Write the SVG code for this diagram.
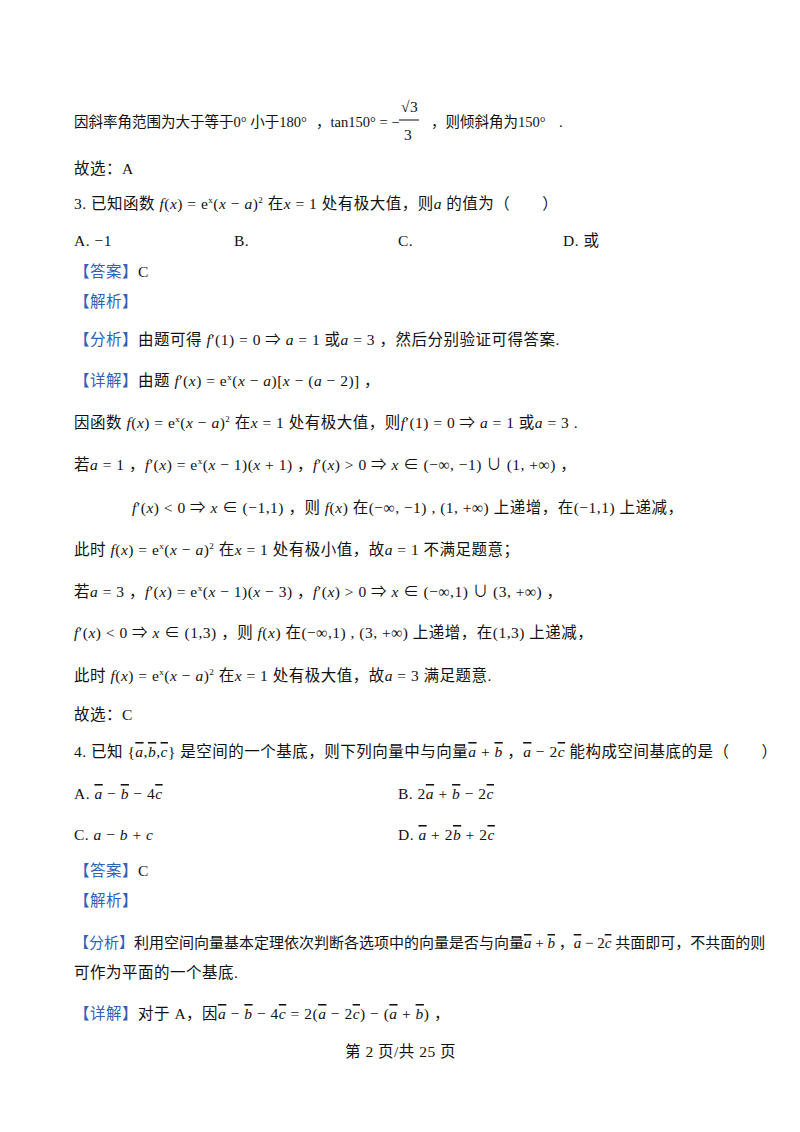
<svg xmlns="http://www.w3.org/2000/svg" width="800" height="1132" viewBox="0 0 800 1132">
<style>
text{font-family:"Liberation Serif","Noto Sans CJK SC",serif;font-size:15.5px;fill:#111;letter-spacing:0.5px}
.l1{font-size:14.5px;letter-spacing:0}
.m{font-style:italic}
.v{font-style:italic;text-decoration:overline}
.b{fill:#2f62b8}
</style>
<rect width="800" height="1132" fill="#fff"/>
<g id="body">
<text x="74" y="127" class="l1">因斜率角范围为大于等于0° 小于180°</text>
<text x="316" y="127" class="l1">，tan150° = −</text>
<text x="401" y="112" font-size="13">√3</text>
<line x1="399" y1="120" x2="419" y2="120" stroke="#111"/>
<text x="404" y="140" font-size="13">3</text>
<text x="431" y="127" class="l1">，则倾斜角为150°</text>
<text x="559" y="127" class="l1">.</text>
<text x="74" y="174">故选：A</text>
<text x="74" y="209">3. 已知函数 <tspan class="m">f</tspan>(<tspan class="m">x</tspan>) = e<tspan font-size="9" dy="-6">x</tspan><tspan dy="6">(</tspan><tspan class="m">x</tspan> − <tspan class="m">a</tspan>)<tspan font-size="9" dy="-6">2</tspan><tspan dy="6">  在</tspan><tspan class="m">x</tspan> = 1   处有极大值，则<tspan class="m">a</tspan>   的值为（　　）</text>
<text x="74" y="246">A.  −1</text>
<text x="234" y="246">B.</text>
<text x="398" y="246">C.</text>
<text x="563" y="246">D.   或</text>
<text x="74" y="277" class="b">【答案】<tspan fill="#111">C</tspan></text>
<text x="74" y="307" class="b">【解析】</text>
<text x="74" y="345"><tspan class="b">【分析】</tspan>由题可得 <tspan class="m">f</tspan>′(1) = 0 ⇒ <tspan class="m">a</tspan> = 1  或<tspan class="m">a</tspan> = 3 ，然后分别验证可得答案.</text>
<text x="74" y="386"><tspan class="b">【详解】</tspan>由题 <tspan class="m">f</tspan>′(<tspan class="m">x</tspan>) = e<tspan font-size="9" dy="-6">x</tspan><tspan dy="6">(</tspan><tspan class="m">x</tspan> − <tspan class="m">a</tspan>)[<tspan class="m">x</tspan> − (<tspan class="m">a</tspan> − 2)] ，</text>
<text x="74" y="428">因函数 <tspan class="m">f</tspan>(<tspan class="m">x</tspan>) = e<tspan font-size="9" dy="-6">x</tspan><tspan dy="6">(</tspan><tspan class="m">x</tspan> − <tspan class="m">a</tspan>)<tspan font-size="9" dy="-6">2</tspan><tspan dy="6">  在</tspan><tspan class="m">x</tspan> = 1  处有极大值，则<tspan class="m">f</tspan>′(1) = 0 ⇒ <tspan class="m">a</tspan> = 1    或<tspan class="m">a</tspan> = 3    .</text>
<text x="74" y="470">若<tspan class="m">a</tspan> = 1 ，<tspan class="m">f</tspan>′(<tspan class="m">x</tspan>) = e<tspan font-size="9" dy="-6">x</tspan><tspan dy="6">(</tspan><tspan class="m">x</tspan> − 1)(<tspan class="m">x</tspan> + 1)  ，<tspan class="m">f</tspan>′(<tspan class="m">x</tspan>) &gt; 0 ⇒ <tspan class="m">x</tspan> ∈ (−∞, −1) ∪ (1, +∞)    ，</text>
<text x="132" y="513"><tspan class="m">f</tspan>′(<tspan class="m">x</tspan>) &lt; 0 ⇒ <tspan class="m">x</tspan> ∈ (−1,1) ，则 <tspan class="m">f</tspan>(<tspan class="m">x</tspan>)  在(−∞, −1) , (1, +∞)  上递增，在(−1,1)   上递减，</text>
<text x="74" y="555">此时 <tspan class="m">f</tspan>(<tspan class="m">x</tspan>) = e<tspan font-size="9" dy="-6">x</tspan><tspan dy="6">(</tspan><tspan class="m">x</tspan> − <tspan class="m">a</tspan>)<tspan font-size="9" dy="-6">2</tspan><tspan dy="6">  在</tspan><tspan class="m">x</tspan> = 1  处有极小值，故<tspan class="m">a</tspan> = 1   不满足题意；</text>
<text x="74" y="597">若<tspan class="m">a</tspan> = 3 ，<tspan class="m">f</tspan>′(<tspan class="m">x</tspan>) = e<tspan font-size="9" dy="-6">x</tspan><tspan dy="6">(</tspan><tspan class="m">x</tspan> − 1)(<tspan class="m">x</tspan> − 3)  ，<tspan class="m">f</tspan>′(<tspan class="m">x</tspan>) &gt; 0 ⇒ <tspan class="m">x</tspan> ∈ (−∞,1) ∪ (3, +∞)     ，</text>
<text x="74" y="638"><tspan class="m">f</tspan>′(<tspan class="m">x</tspan>) &lt; 0 ⇒ <tspan class="m">x</tspan> ∈ (1,3) ，则 <tspan class="m">f</tspan>(<tspan class="m">x</tspan>)  在(−∞,1) , (3, +∞)  上递增，在(1,3)  上递减，</text>
<text x="74" y="681">此时 <tspan class="m">f</tspan>(<tspan class="m">x</tspan>) = e<tspan font-size="9" dy="-6">x</tspan><tspan dy="6">(</tspan><tspan class="m">x</tspan> − <tspan class="m">a</tspan>)<tspan font-size="9" dy="-6">2</tspan><tspan dy="6">  在</tspan><tspan class="m">x</tspan> = 1  处有极大值，故<tspan class="m">a</tspan> = 3  满足题意.</text>
<text x="74" y="720">故选：C</text>
<text x="74" y="757">4. 已知 {<tspan class="v">a</tspan>,<tspan class="v">b</tspan>,<tspan class="v">c</tspan>} 是空间的一个基底，则下列向量中与向量<tspan class="v">a</tspan> + <tspan class="v">b</tspan>  ，<tspan class="v">a</tspan> − 2<tspan class="v">c</tspan>   能构成空间基底的是（　　）</text>
<text x="74" y="799">A.  <tspan class="v">a</tspan> − <tspan class="v">b</tspan> − 4<tspan class="v">c</tspan></text>
<text x="398" y="799">B.  2<tspan class="v">a</tspan> + <tspan class="v">b</tspan> − 2<tspan class="v">c</tspan></text>
<text x="74" y="840">C.  <tspan class="m">a</tspan> − <tspan class="m">b</tspan> + <tspan class="m">c</tspan></text>
<text x="398" y="840">D.  <tspan class="v">a</tspan> + 2<tspan class="v">b</tspan> + 2<tspan class="v">c</tspan></text>
<text x="74" y="876" class="b">【答案】<tspan fill="#111">C</tspan></text>
<text x="74" y="906" class="b">【解析】</text>
<text x="74" y="948" style="letter-spacing:0;font-size:15px"><tspan class="b">【分析】</tspan>利用空间向量基本定理依次判断各选项中的向量是否与向量<tspan class="v">a</tspan> + <tspan class="v">b</tspan> ，<tspan class="v">a</tspan> − 2<tspan class="v">c</tspan> 共面即可，不共面的则</text>
<text x="74" y="978">可作为平面的一个基底.</text>
<text x="74" y="1019"><tspan class="b">【详解】</tspan>对于 A，因<tspan class="v">a</tspan> − <tspan class="v">b</tspan> − 4<tspan class="v">c</tspan> = 2(<tspan class="v">a</tspan> − 2<tspan class="v">c</tspan>) − (<tspan class="v">a</tspan> + <tspan class="v">b</tspan>) ，</text>
<text x="345" y="1057">第 2 页/共 25 页</text>
</g>
</svg>
